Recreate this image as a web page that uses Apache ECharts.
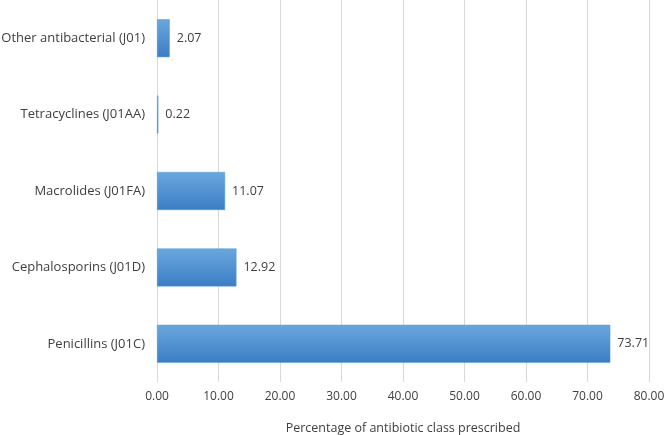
<!DOCTYPE html>
<html><head><meta charset="utf-8">
<script src="https://cdn.jsdelivr.net/npm/echarts@6/dist/echarts.min.js"></script>
<style>html,body{margin:0;padding:0;background:#fff}#c{width:664px;height:435px}</style>
</head><body><div id="c"></div>
<script>
const categories = ["Penicillins (J01C)", "Cephalosporins (J01D)", "Macrolides (J01FA)", "Tetracyclines (J01AA)", "Other antibacterial (J01)"];
const values = [73.71, 12.92, 11.07, 0.22, 2.07];
const axisTitle = "Percentage of antibiotic class prescribed";
const font = "'Open Sans', 'Noto Sans', sans-serif";
const chart = echarts.init(document.getElementById('c'));
chart.setOption({
  animation: false,
  grid: {left: 157, right: 15, top: 0, height: 382, containLabel: false, outerBoundsMode: 'none'},
  xAxis: {
    type: 'value', min: 0, max: 80, interval: 10,
    name: axisTitle, nameLocation: 'middle', nameGap: 40,
    nameTextStyle: {color: '#404040', fontSize: 12.5, fontFamily: font},
    axisLine: {show: false}, axisTick: {show: false},
    axisLabel: {color: '#404040', fontSize: 12, fontFamily: font, margin: 9, formatter: v => v.toFixed(2)},
    splitLine: {show: true, lineStyle: {color: '#d9d9d9', width: 1}}
  },
  yAxis: {
    type: 'category', data: categories,
    axisLine: {show: true, lineStyle: {color: '#d9d9d9'}},
    axisTick: {show: false},
    axisLabel: {color: '#404040', fontSize: 13, fontFamily: font, margin: 12}
  },
  series: [{
    type: 'bar', data: values, barWidth: 38,
    itemStyle: {
      color: new echarts.graphic.LinearGradient(0, 0, 0, 1, [
        {offset: 0, color: '#6aa7de'},
        {offset: 1, color: '#3b7ec4'}
      ]),
      borderColor: '#5b9bd5', borderWidth: 0.5
    },
    label: {show: true, position: 'right', distance: 7, color: '#404040', fontSize: 12.5, fontFamily: font, formatter: p => p.value.toFixed(2)}
  }]
});
</script></body></html>
